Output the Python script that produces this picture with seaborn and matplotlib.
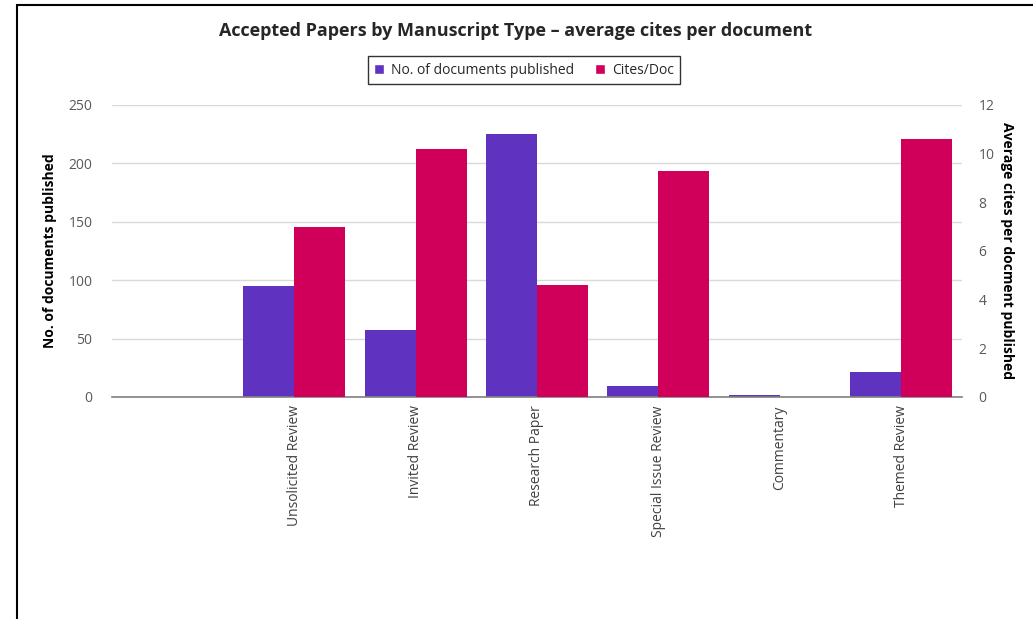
import pandas as pd
import seaborn as sns
import matplotlib.pyplot as plt
from matplotlib.patches import Patch, Rectangle

# values (unsolicited docs hidden under watermark: estimate)
categories = ["Unsolicited Review", "Invited Review", "Research Paper",
              "Special Issue Review", "Commentary", "Themed Review"]
docs_published = [95, 57, 225, 9, 2, 21]
cites_per_doc = [7.0, 10.2, 4.6, 9.3, 0.0, 10.6]

docs_label = "No. of documents published"
cites_label = "Cites/Doc"
palette = {docs_label: "#5f33bf", cites_label: "#d0005a"}
hue_order = [docs_label, cites_label]

sns.set_theme(style="white")
plt.rcParams['font.family'] = ['Open Sans', 'DejaVu Sans']

docs_df = pd.DataFrame({"type": categories, "value": docs_published, "series": docs_label})
cites_df = pd.DataFrame({"type": categories, "value": cites_per_doc, "series": cites_label})

fig = plt.figure(figsize=(10.33, 6.19), dpi=100)
ax = fig.add_axes([112 / 1033, 1 - 397 / 619, 850 / 1033, 292 / 619])
ax2 = ax.twinx()

bar_kw = dict(x="type", y="value", hue="series", hue_order=hue_order, palette=palette,
              width=0.84, order=categories, dodge=True, saturation=1, linewidth=0, legend=False)
sns.barplot(data=docs_df, ax=ax, **bar_kw)
sns.barplot(data=cites_df, ax=ax2, **bar_kw)

ax.set_xlim(-1.5, 5.5)
ax.set_ylim(0, 250)
ax2.set_ylim(0, 12)
ax.set_yticks(range(0, 251, 50))
ax2.set_yticks(range(0, 13, 2))

ax.yaxis.grid(True, color="#d9d9d9", linewidth=1)
ax.set_axisbelow(True)
ax2.grid(False)

for a in (ax, ax2):
    for s in a.spines.values():
        s.set_visible(False)
    a.tick_params(length=0, labelsize=10, labelcolor="#595959")
ax.spines["bottom"].set_visible(True)
ax.spines["bottom"].set_color("#808080")
ax.spines["bottom"].set_linewidth(1.2)
ax.spines["bottom"].set_zorder(5)

ax.tick_params(axis="x", labelrotation=90, labelcolor="#404040", pad=6)
ax.tick_params(axis="y", pad=14)
ax2.tick_params(axis="y", pad=12)

ax.set_xlabel("")
ax.set_ylabel(docs_label, fontsize=10, fontweight="bold", color="black", labelpad=8)
ax2.set_ylabel("Average cites per docment published", fontsize=10, fontweight="bold",
               color="black", rotation=-90, labelpad=14)

fig.text(516 / 1033, 1 - 31 / 619, "Accepted Papers by Manuscript Type \u2013 average cites per document",
         ha="center", va="center", fontsize=13, fontweight="bold")

handles = [Patch(facecolor=palette[k], label=k) for k in hue_order]
leg = fig.legend(handles=handles, loc="center", bbox_to_anchor=(524 / 1033, 1 - 70 / 619),
                 ncol=2, fontsize=10, frameon=True, fancybox=False, handlelength=0.7,
                 handleheight=0.7, columnspacing=1.5, handletextpad=0.5, borderpad=0.45)
leg.get_frame().set_edgecolor("black")
leg.get_frame().set_linewidth(1)

# outer chart border (right and bottom edges fall outside the image)
fig.patches.append(Rectangle((17 / 1033, -0.1), 1.2, 1.1 - 5 / 619, transform=fig.transFigure,
                             fill=False, edgecolor="black", linewidth=1.5, clip_on=False))

fig.savefig("out.png", dpi=100)
